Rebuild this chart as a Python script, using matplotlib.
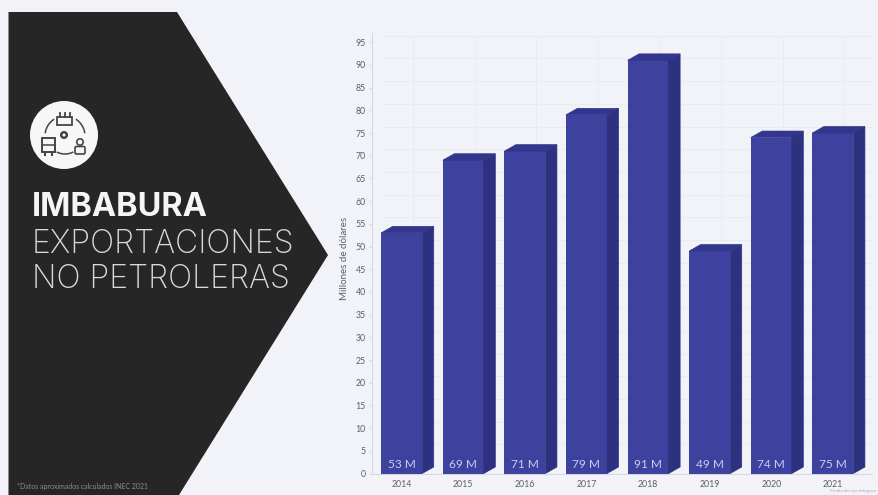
import numpy as np
import matplotlib
matplotlib.use('Agg')
import matplotlib.pyplot as plt
from matplotlib.patches import Polygon, Circle, Rectangle, FancyBboxPatch

years = ['2014', '2015', '2016', '2017', '2018', '2019', '2020', '2021']
values = [53, 69, 71, 79, 91, 49, 74, 75]
value_labels = ['53 M', '69 M', '71 M', '79 M', '91 M', '49 M', '74 M', '75 M']
y_ticks = list(range(0, 100, 5))

BG = '#f2f3f8'
DARK = '#262626'
FRONT = '#3d429f'
SIDE = '#2e3180'
TOP = '#32368c'
TICK = '#5c5f66'
INK = '#454545'

W, H = 879, 495
plt.rcParams['font.family'] = ['Lato', 'DejaVu Sans']


def icon_arc(axis, cx, cy, r, a0, a1):
    # y axis of the banner layer points down, so flip the sine
    t = np.radians(np.linspace(a0, a1, 30))
    axis.plot(cx + r * np.cos(t), cy - r * np.sin(t), color=INK, lw=1.1)


fig = plt.figure(figsize=(W / 100, H / 100), dpi=100, facecolor=BG)

# full-figure layer in pixel units for the dark banner
bg = fig.add_axes([0, 0, 1, 1])
bg.set_xlim(0, W)
bg.set_ylim(H, 0)
bg.axis('off')
bg.add_patch(Polygon([(9, 12), (177, 12), (328, 255), (179, 495), (9, 495)],
                     closed=True, fc=DARK, ec='none'))
bg.add_patch(Rectangle((8, 12), 1.5, 483, fc='#8b8b8b', ec='none'))

# icon badge
bg.add_patch(Circle((64, 135), 34, fc='#f7f7f7', ec='none'))
bg.add_patch(Rectangle((57, 117), 15, 8, fc='none', ec=INK, lw=1.3))
bg.plot([60, 60], [113, 117], color=INK, lw=1.3)
bg.plot([65, 65], [113, 117], color=INK, lw=1.3)
bg.plot([70, 70], [113, 117], color=INK, lw=1.3)
bg.add_patch(Circle((64, 135), 2.8, fc='none', ec=INK, lw=1.8))
bg.add_patch(Rectangle((42, 138), 13, 14, fc='none', ec=INK, lw=1.4))
bg.plot([42, 55], [145, 145], color=INK, lw=1.1)
bg.plot([45, 45], [152, 155], color=INK, lw=1.5)
bg.plot([52, 52], [152, 155], color=INK, lw=1.5)
bg.add_patch(Circle((80, 142), 3.2, fc='none', ec=INK, lw=1.2))
bg.add_patch(FancyBboxPatch((76.5, 148), 7, 4.5, boxstyle='round,pad=1.5',
                            fc='none', ec=INK, lw=1.2))
icon_arc(bg, 65, 136, 20, 125, 170)
icon_arc(bg, 65, 136, 20, 10, 55)
icon_arc(bg, 65, 136, 18, 245, 295)

bg.text(32, 216, 'IMBABURA', color='#f5f5f5', fontsize=23.4, fontweight='bold',
        family=['Inter', 'DejaVu Sans'], va='baseline', ha='left')
bg.text(32, 253, 'EXPORTACIONES', color='#d9d9d9', fontsize=23, fontweight='light',
        family=['Inter', 'DejaVu Sans'], va='baseline', ha='left')
bg.text(32, 288, 'NO PETROLERAS', color='#d9d9d9', fontsize=23, fontweight='light',
        family=['Inter', 'DejaVu Sans'], va='baseline', ha='left')
bg.text(17, 487, '*Datos aproximados calculados INEC 2021', color='#8c8c8c', fontsize=5,
        va='center', ha='left')

# chart axes: 0 sits at y=473.5px, unit = 4.54px, bars repeat every 61.6px
left, right, top, bottom = 372, 872, 33, 473.5
ax = fig.add_axes([left / W, 1 - bottom / H, (right - left) / W, (bottom - top) / H])
ax.set_facecolor('none')
ax.set_xlim((left - 401.7) / 61.6, (right - 401.7) / 61.6)
ax.set_ylim(0, (bottom - top) / 4.54)

x = list(range(len(years)))
bar_w = 0.666
dx = 11.5 / 61.6
dy = 6.5 / 4.54

# faint back wall grid, shifted by the bar depth
for t in y_ticks[1:]:
    ax.plot([-0.482 + dx, 7.63], [t + dy, t + dy], color='#e9ebf1', lw=0.7, zorder=1)
for i in x:
    ax.plot([i + dx, i + dx], [dy, 95 + dy], color='#e9ebf1', lw=0.7, zorder=1)

ax.bar(x, values, width=bar_w, color=FRONT, zorder=3)
for i, v in zip(x, values):
    xl, xr = i - bar_w / 2, i + bar_w / 2
    ax.add_patch(Polygon([(xr, 0), (xr + dx, dy), (xr + dx, v + dy), (xr, v)],
                         closed=True, fc=SIDE, ec=SIDE, lw=0.5, zorder=3))
    ax.add_patch(Polygon([(xl, v), (xl + dx, v + dy), (xr + dx, v + dy), (xr, v)],
                         closed=True, fc=TOP, ec=TOP, lw=0.5, zorder=3))
    ax.text(i, 1.9, value_labels[i], color='#c9ccf2', fontsize=8.6,
            ha='center', va='center', zorder=4)

ax.set_xticks(x, years)
ax.set_yticks(y_ticks)
ax.tick_params(axis='x', length=0, pad=5, labelsize=6.3, labelcolor=TICK)
ax.tick_params(axis='y', length=2.5, width=0.6, color='#d5d8de', pad=2,
               labelsize=6.3, labelcolor=TICK)
for s in ['top', 'right']:
    ax.spines[s].set_visible(False)
for s in ['left', 'bottom']:
    ax.spines[s].set_color('#d5d8de')
    ax.spines[s].set_linewidth(0.8)
ax.set_ylabel('Millones de dólares', fontsize=7, color=TICK, labelpad=5, y=0.489)

bg.text(876, 491, 'Producido con Infogram', color='#a8abb2', fontsize=3.2,
        ha='right', va='center')

fig.savefig('out.png', dpi=100, facecolor=BG)
